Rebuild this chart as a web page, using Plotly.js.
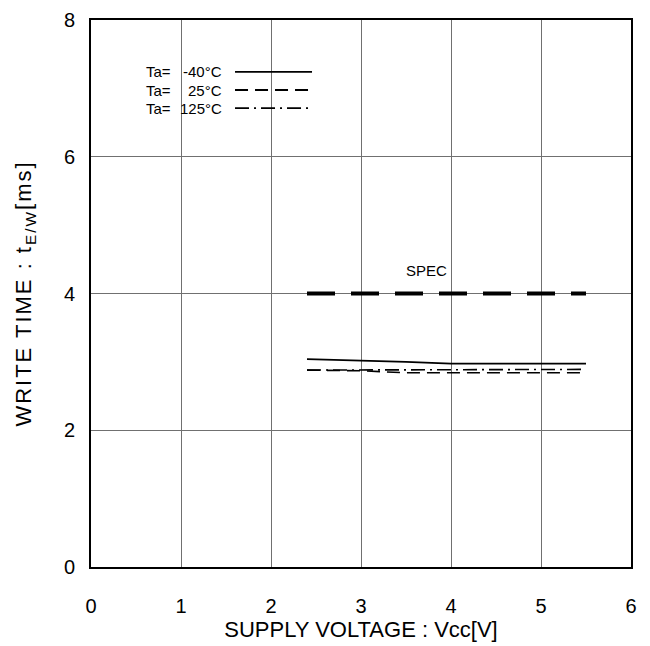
<!DOCTYPE html>
<html>
<head>
<meta charset="utf-8">
<script src="https://cdn.plot.ly/plotly-3.0.1.min.js"></script>
<style>
html,body{margin:0;padding:0;background:#fff;}
#chart{width:650px;height:646px;}
.ytitle{letter-spacing:2px;}
</style>
</head>
<body>
<div id="chart"></div>
<script>
// Data
const vcc = [2.4, 3.0, 3.5, 4.0, 4.5, 5.0, 5.5];
const tM40 = [3.04, 3.02, 3.00, 2.975, 2.975, 2.975, 2.975];
const t25 = [2.88, 2.87, 2.84, 2.84, 2.84, 2.84, 2.84];
const t125 = [2.88, 2.88, 2.89, 2.89, 2.89, 2.89, 2.89];
const specX = [2.4, 5.5];
const specY = [4, 4];
const specLabel = "SPEC";
const legendPrefix = ["Ta=", "Ta=", "Ta="];
const legendTemps = ["-40°C", "25°C", "125°C"];
const xTicks = [0, 1, 2, 3, 4, 5, 6];
const yTicks = [0, 2, 4, 6, 8];

const font = "Arial, 'Liberation Sans', sans-serif";
const dashes = ["solid", "13px,7px", "14px,5px,2px,5px"];
const seriesY = [tM40, t25, t125];

const traces = [];
seriesY.forEach((ys, i) => {
  traces.push({x: vcc, y: ys, mode: "lines", type: "scatter",
    line: {color: "#000", width: 1.6, dash: dashes[i]}, showlegend: false, hoverinfo: "skip"});
});
traces.push({x: specX, y: specY, mode: "lines", type: "scatter",
  line: {color: "#000", width: 4, dash: "28px,16px"}, showlegend: false, hoverinfo: "skip"});

// legend drawn as annotations + sample lines (paper coords)
const rowsY = [0.905, 0.872, 0.839];
const annotations = [];
const shapes = [];
rowsY.forEach((yy, i) => {
  annotations.push({xref: "paper", yref: "paper", x: 0.098, y: yy, xanchor: "left", yanchor: "middle",
    text: legendPrefix[i], showarrow: false, font: {family: font, size: 15, color: "#000"}});
  annotations.push({xref: "paper", yref: "paper", x: 0.246, y: yy, xanchor: "right", yanchor: "middle",
    text: legendTemps[i], showarrow: false, font: {family: font, size: 15, color: "#000"}});
  shapes.push({type: "line", xref: "paper", yref: "paper", x0: 0.2667, x1: 0.4093, y0: yy, y1: yy,
    line: {color: "#000", width: 1.8, dash: dashes[i]}});
});
annotations.push({x: 3.73, y: 4.33, xref: "x", yref: "y", text: specLabel, showarrow: false,
  font: {family: font, size: 15, color: "#000"}});

const layout = {
  width: 650, height: 646,
  margin: {l: 91, r: 19, t: 20, b: 79},
  paper_bgcolor: "#fff", plot_bgcolor: "#fff",
  font: {family: font, color: "#000"},
  xaxis: {range: [0, 6], tickvals: xTicks, ticktext: xTicks.map(String),
    showgrid: true, gridcolor: "#707070", gridwidth: 1, zeroline: false,
    showline: true, mirror: true, linecolor: "#000", linewidth: 2,
    ticks: "", ticklabelstandoff: 20, tickfont: {size: 20, family: font},
    title: {text: "SUPPLY VOLTAGE : Vcc[V]", font: {size: 22, family: font}, standoff: 4}},
  yaxis: {range: [0, 8], tickvals: yTicks, ticktext: yTicks.map(String),
    showgrid: true, gridcolor: "#707070", gridwidth: 1, zeroline: false,
    showline: true, mirror: true, linecolor: "#000", linewidth: 2,
    ticks: "", ticklabelstandoff: 10, tickfont: {size: 20, family: font},
    title: {text: "WRITE TIME : t<sub>E/W</sub>[ms]", font: {size: 22, family: font}, standoff: 26}},
  annotations: annotations,
  shapes: shapes,
  showlegend: false
};

Plotly.newPlot("chart", traces, layout, {displayModeBar: false, staticPlot: true});
</script>
</body>
</html>
